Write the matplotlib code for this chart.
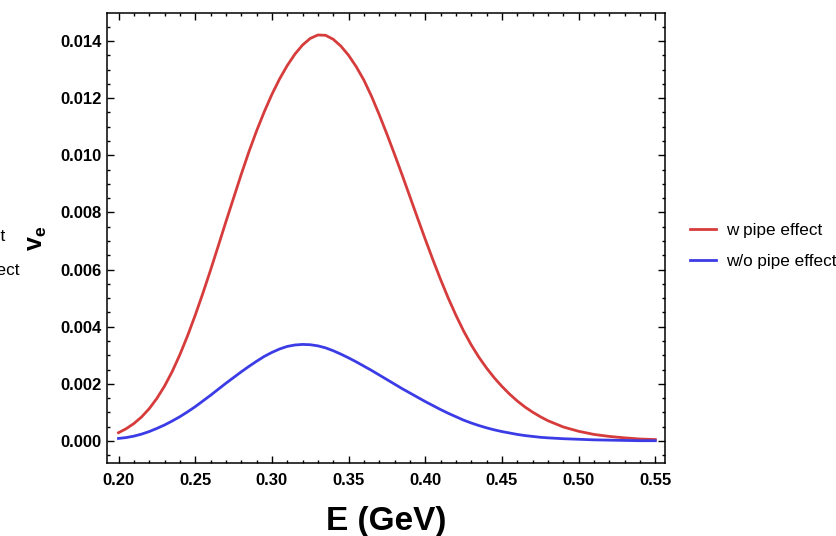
import matplotlib
matplotlib.use('Agg')
import matplotlib.pyplot as plt
from matplotlib.ticker import MultipleLocator

plt.rcParams['font.family'] = ['Liberation Sans', 'DejaVu Sans']
plt.rcParams['mathtext.fontset'] = 'custom'
plt.rcParams['mathtext.bf'] = 'Liberation Sans:bold'
plt.rcParams['mathtext.rm'] = 'Liberation Sans'

# Energy grid (GeV) and the two spectra.
energy = [0.200, 0.205, 0.210, 0.215, 0.220, 0.225, 0.230, 0.235, 0.240, 0.245,
          0.250, 0.255, 0.260, 0.265, 0.270, 0.275, 0.280, 0.285, 0.290, 0.295,
          0.300, 0.305, 0.310, 0.315, 0.320, 0.325, 0.330, 0.335, 0.340, 0.345,
          0.350, 0.355, 0.360, 0.365, 0.370, 0.375, 0.380, 0.385, 0.390, 0.395,
          0.400, 0.405, 0.410, 0.415, 0.420, 0.425, 0.430, 0.435, 0.440, 0.445,
          0.450, 0.455, 0.460, 0.465, 0.470, 0.475, 0.480, 0.490, 0.500, 0.510,
          0.520, 0.530, 0.540, 0.550]

with_pipe = [0.00029, 0.00043, 0.00061, 0.00084, 0.00113, 0.00149, 0.00192, 0.00243, 0.00302, 0.00368,
             0.00440, 0.00517, 0.00598, 0.00682, 0.00767, 0.00850, 0.00933, 0.01012, 0.01085, 0.01152,
             0.01213, 0.01267, 0.01314, 0.01354, 0.01386, 0.01409, 0.01421, 0.01420, 0.01406, 0.01382,
             0.01350, 0.01310, 0.01263, 0.01206, 0.01142, 0.01074, 0.01003, 0.00930, 0.00855, 0.00780,
             0.00706, 0.00634, 0.00565, 0.00500, 0.00440, 0.00385, 0.00336, 0.00293, 0.00255, 0.00221,
             0.00191, 0.00164, 0.00140, 0.00119, 0.00101, 0.00085, 0.00071, 0.00049, 0.00034, 0.00023,
             0.00016, 0.00011, 0.00007, 0.00005]

without_pipe = [0.00009, 0.00012, 0.00017, 0.00024, 0.00033, 0.00044, 0.00056, 0.00070, 0.00085, 0.00102,
                0.00120, 0.00140, 0.00160, 0.00181, 0.00202, 0.00222, 0.00242, 0.00261, 0.00279, 0.00296,
                0.00310, 0.00322, 0.00331, 0.00336, 0.00338, 0.00337, 0.00333, 0.00326, 0.00316, 0.00304,
                0.00291, 0.00277, 0.00262, 0.00247, 0.00231, 0.00215, 0.00199, 0.00183, 0.00168, 0.00153,
                0.00138, 0.00124, 0.00110, 0.00097, 0.00085, 0.00073, 0.00063, 0.00054, 0.00046, 0.00039,
                0.00033, 0.00028, 0.00023, 0.00019, 0.00016, 0.00013, 0.00011, 0.00008, 0.00006, 0.00004,
                0.00003, 0.00002, 0.00001, 0.00001]

x_ticks = [0.20, 0.25, 0.30, 0.35, 0.40, 0.45, 0.50, 0.55]
y_ticks = [0.000, 0.002, 0.004, 0.006, 0.008, 0.010, 0.012, 0.014]

fig = plt.figure(figsize=(8.37, 5.36), dpi=100)
ax = fig.add_axes([107 / 837, 1 - 463 / 536, 558 / 837, 450 / 536])

ax.plot(energy, with_pipe, color='#d63c3c', lw=2.0, label='w pipe effect')
ax.plot(energy, without_pipe, color='#3c3ce6', lw=2.0, label='w/o pipe effect')

ax.set_xlim(0.1925, 0.5563)
ax.set_ylim(-0.00077, 0.01498)

ax.set_xticks(x_ticks)
ax.set_xticklabels(['%.2f' % t for t in x_ticks])
ax.set_yticks(y_ticks)
ax.set_yticklabels(['%.3f' % t for t in y_ticks])
ax.xaxis.set_minor_locator(MultipleLocator(0.01))
ax.yaxis.set_minor_locator(MultipleLocator(0.0005))
ax.tick_params(which='both', direction='in', top=True, right=True, width=1)
ax.tick_params(which='major', length=5, labelsize=12)
ax.tick_params(which='minor', length=2.5)
ax.tick_params(axis='x', pad=7)
ax.tick_params(axis='y', pad=4)
for lab in ax.get_xticklabels() + ax.get_yticklabels():
    lab.set_fontweight('bold')
for sp in ax.spines.values():
    sp.set_linewidth(1.1)

ax.set_xlabel('E (GeV)', fontsize=24, fontweight='bold', labelpad=13)
ax.set_ylabel(r'$\mathbf{v_e}$', fontsize=18, labelpad=8)

ax.legend(frameon=False, loc='center left', bbox_to_anchor=(1.045, 0.482),
          fontsize=12.3, handlelength=1.5, handletextpad=0.6, borderpad=0,
          borderaxespad=0, labelspacing=0.9)

# neighbouring panel's legend, cut by the left edge
fig.text(-91 / 837, 1 - 236 / 536, 'w pipe effect', fontsize=12.3, va='center')
fig.text(-91 / 837, 1 - 270 / 536, 'w/o pipe effect', fontsize=12.3, va='center')

fig.savefig('out.png', dpi=100)
